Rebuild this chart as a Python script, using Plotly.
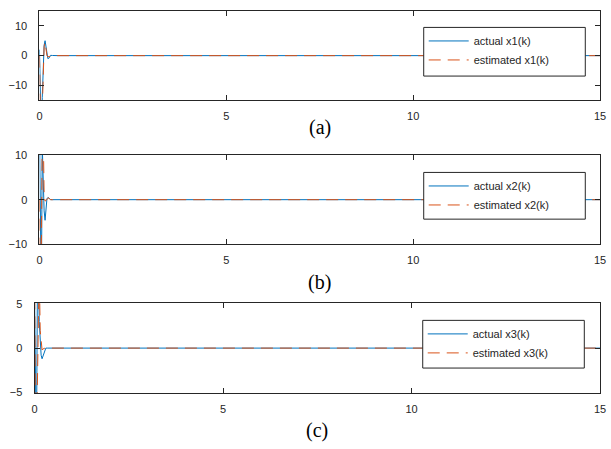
import plotly.graph_objects as go

# time samples (s)
t = [0, 0.025, 0.05, 0.075, 0.1, 0.125, 0.15, 0.175, 0.2, 0.225, 0.25, 0.275, 0.3, 0.35, 0.4, 0.5, 15]

x1_actual = [2, -12, -28, -14, -2, 3.5, 5, 2.5, -0.3, -1.0, -0.9, -0.3, 0.1, 0.05, 0, 0, 0]
x1_est = [0, -22, -35, -18, -3, 3, 4.5, 2, 0, -0.4, -0.3, -0.1, 0, 0, 0, 0, 0]

x2_actual = [16, -14, -22, 12, 3, -2.5, -4.6, -1.5, 0.2, 0.5, 0.4, 0.1, 0, 0, 0, 0, 0]
x2_est = [0, -18, -12, 14, 16, 1, -0.3, -0.2, 0.1, 0.3, 0.4, 0.2, 0, 0, 0, 0, 0]

x3_actual = [6, -8, -12, 6, 9, 3, 0.2, -0.8, -1.2, -0.9, -0.4, -0.1, 0, 0, 0, 0, 0]
x3_est = [10, -9, -11, -4, 7, 9, 2, 0.2, -0.2, -0.1, 0, 0, 0, 0, 0, 0, 0]

panels = [
    dict(act=x1_actual, est=x1_est, name="x1(k)", yr=[-15, 15], yt=[-10, 0, 10], label="(a)"),
    dict(act=x2_actual, est=x2_est, name="x2(k)", yr=[-10, 10], yt=[-10, 0, 10], label="(b)"),
    dict(act=x3_actual, est=x3_est, name="x3(k)", yr=[-5.1, 5.1], yt=[-5, 0, 5], label="(c)"),
]
x_ticks = [0, 5, 10, 15]

W, H = 611, 449
BLUE = "#0072BD"
ORANGE = "#D95319"
AX = "#262626"
FONT = "Liberation Sans, Arial"

# pixel layout (top, bottom, left, right) of each axes box
boxes = [(5, 97, 37, 606), (153, 245, 37, 606), (305, 398, 32, 606)]
# legend frames (left, top, right, bottom) in pixels
frames = [(427, 22, 591, 72), (427, 171, 591, 219), (426, 323, 590, 372)]
label_y = [125, 284, 436]

fig = go.Figure()
for i, p in enumerate(panels):
    n = "" if i == 0 else str(i + 1)
    lg = "legend" + n
    fig.add_trace(go.Scatter(x=t, y=p["act"], mode="lines", name="actual " + p["name"],
                             line=dict(color=BLUE, width=1), xaxis="x" + n, yaxis="y" + n,
                             legend=lg))
    fig.add_trace(go.Scatter(x=t, y=p["est"], mode="lines", name="estimated " + p["name"],
                             line=dict(color=ORANGE, width=1, dash="12px,7px"),
                             xaxis="x" + n, yaxis="y" + n, legend=lg))
    top, bot, left, right = boxes[i]
    axis_common = dict(showline=True, linecolor=AX, linewidth=1, mirror="ticks",
                       ticks="inside", ticklen=5, tickcolor=AX, tickwidth=1,
                       showgrid=False, zeroline=False, ticklabeloverflow="allow",
                       tickfont=dict(family=FONT, size=11, color=AX))
    fl, ft, fr, fb = frames[i]
    fig.update_layout(**{
        "xaxis" + n: dict(domain=[left / W, right / W], range=[0, 15], tickvals=x_ticks,
                          anchor="y" + n, ticklabelstandoff=5, **axis_common),
        "yaxis" + n: dict(domain=[1 - bot / H, 1 - top / H], range=p["yr"], tickvals=p["yt"],
                          anchor="x" + n, ticklabelstandoff=9, **axis_common),
        lg: dict(x=fl / W, y=1 - (ft - 1) / H, xanchor="left", yanchor="top",
                 bgcolor="rgba(0,0,0,0)", borderwidth=0, itemwidth=40, tracegroupgap=0,
                 font=dict(family=FONT, size=11, color=AX)),
    })
    fig.add_shape(type="rect", xref="paper", yref="paper",
                  x0=fl / W, x1=fr / W, y0=1 - fb / H, y1=1 - ft / H,
                  line=dict(color=AX, width=1), fillcolor="white", layer="above")
    fig.add_annotation(x=(left + right) / 2 / W, y=1 - label_y[i] / H, xref="paper", yref="paper",
                       text=p["label"], showarrow=False, xanchor="center", yanchor="middle",
                       font=dict(family="Liberation Serif, Times New Roman", size=20, color="black"))

fig.update_layout(width=W, height=H, margin=dict(l=0, r=0, t=0, b=0),
                  paper_bgcolor="white", plot_bgcolor="white")
fig.write_html("out.html")
